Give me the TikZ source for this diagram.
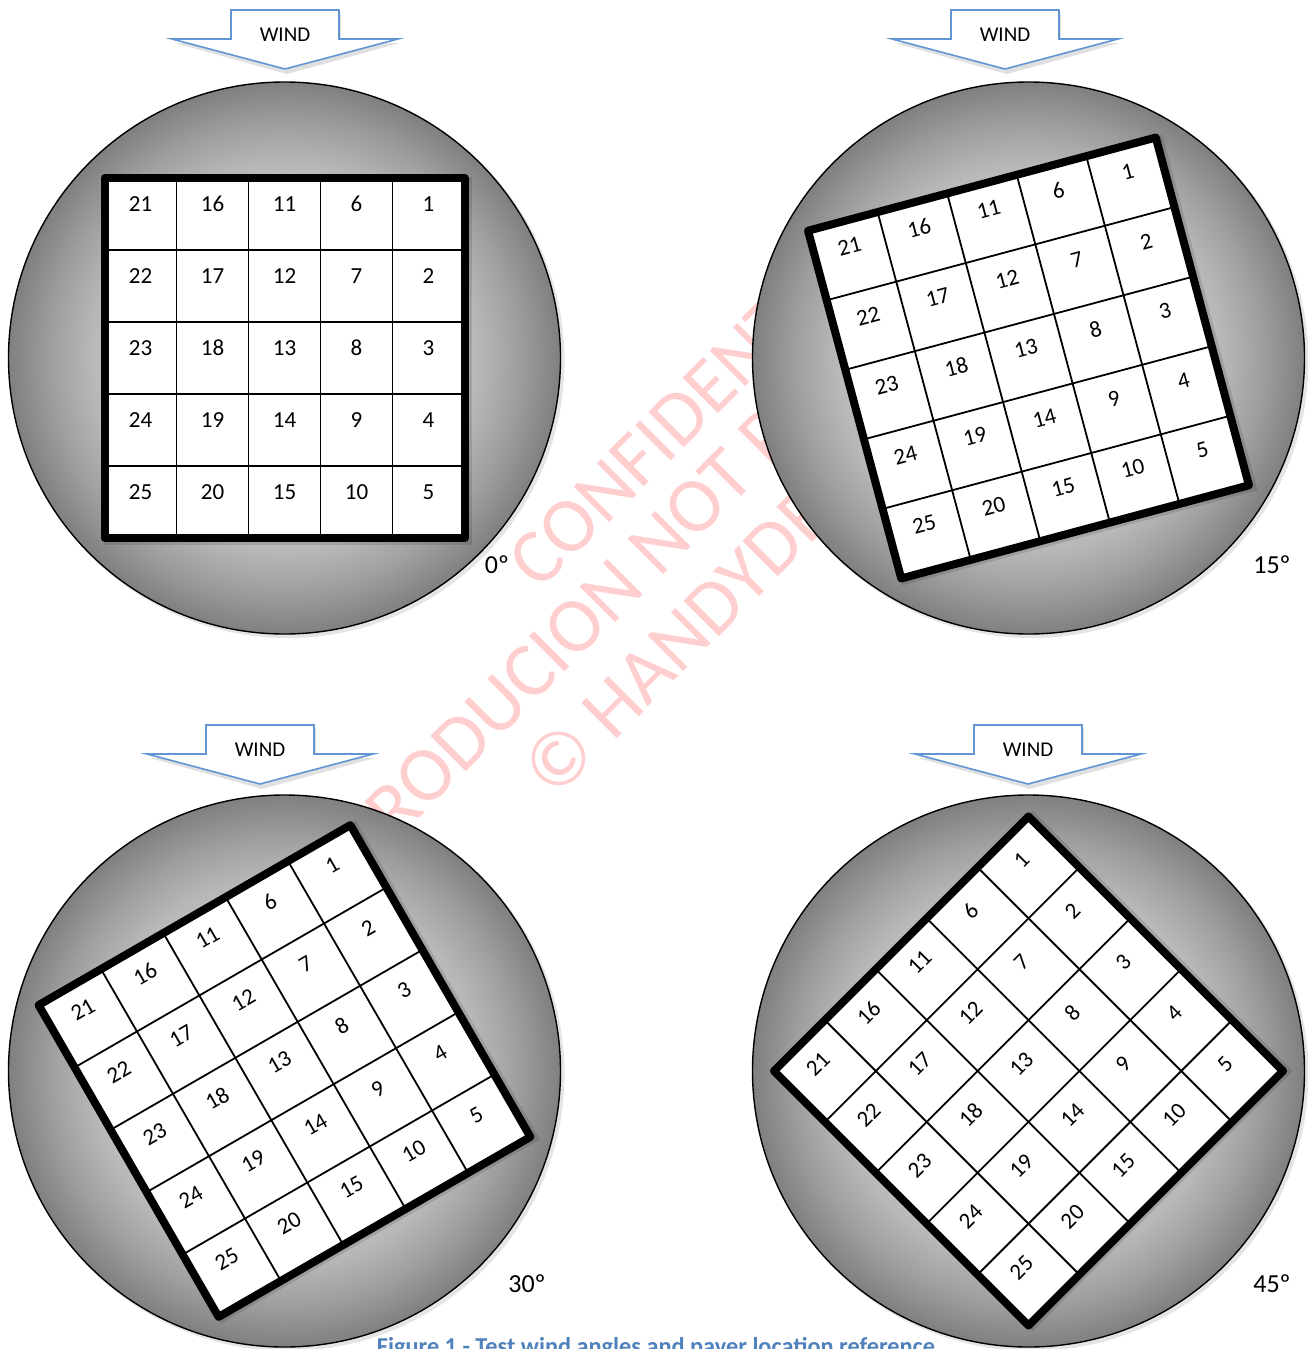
\documentclass[tikz,border=0pt]{standalone}
\usepackage{fontspec}
\setmainfont{Carlito}
\definecolor{windblue}{RGB}{98,150,210}
\definecolor{capblue}{RGB}{79,129,189}
\definecolor{wmark}{RGB}{255,206,206}
\pgfdeclareradialshading{discshade}{\pgfpoint{0bp}{0bp}}{%
 color(0bp)=(black!12); color(12.5bp)=(black!20); color(17.5bp)=(black!28); color(21.25bp)=(black!38); color(25bp)=(black!50); color(50bp)=(black!50)}
\tikzset{
 disc/.style={circle, minimum size=552pt, inner sep=0pt, draw=black, line width=1.4pt, shading=discshade},
 discshadow/.style={fill=black, opacity=0.10},
 windarrow/.style={draw=windblue, line width=1.6pt, fill=white, line join=miter},
 windshadow/.style={fill=black, opacity=0.12},
 windtext/.style={font=\fontsize{21}{25}\selectfont, inner sep=0pt},
 cellnum/.style={font=\fontsize{23}{27}\selectfont, inner sep=0pt},
 gridline/.style={line width=1.8pt},
 gridframe/.style={line width=8pt, line join=round},
 gridshadow/.style={fill=black, opacity=0.12},
 anglelabel/.style={font=\fontsize{26}{30}\selectfont, inner sep=0pt},
 wm/.style={text=wmark, font=\fontsize{78}{90}\selectfont, inner sep=0pt, rotate=45, anchor=west},
 caption/.style={text=capblue, font=\bfseries\fontsize{24.3}{28}\selectfont, inner sep=0pt, anchor=base},
}
\newcommand\WindArrow[3]{%
 \begin{scope}[shift={(#1,-#2)}]
 \fill[windshadow] (-52,-3) -- (56,-3) -- (56,-33) -- (115,-33) -- (2,-64) -- (-110,-33) -- (-52,-33) -- cycle;
 \draw[windarrow] (-54,0) -- (54,0) -- (54,-29) -- (113,-29) -- (0,-59) -- (-113,-29) -- (-54,-29) -- cycle;
 \node[windtext] (#3) at (0,-25) {WIND};
 \end{scope}}
\newcommand\PaverGrid[4]{%
 \begin{scope}[shift={(#1,-#2)}]
 \fill[gridshadow, rotate=#3] (-181,-187) rectangle (187,181);
 \end{scope}
 \begin{scope}[shift={(#1,-#2)}, rotate=#3]
 \fill[white] (-180,-180) rectangle (180,180);
 \foreach \k in {1,...,4}{
  \draw[gridline] (-180+72*\k,-180) -- (-180+72*\k,180);
  \draw[gridline] (-180,-180+72*\k) -- (180,-180+72*\k);}
 \draw[gridframe] (-180,-180) rectangle (180,180);
 \foreach \c in {0,...,4}{\foreach \r in {0,...,4}{
  \pgfmathtruncatemacro\n{(4-\c)*5+\r+1}
  \node[cellnum, rotate=#3] (#4-\n) at (-144+72*\c, 154-72*\r) {\n};}}
 \end{scope}}
\begin{document}
\begin{tikzpicture}[x=1pt,y=1pt]
\fill[white] (0,0) rectangle (1307,-1349);
\useasboundingbox (0,0) rectangle (1307,-1349);
% watermark (behind the discs)
\node[wm] (wm1) at (522,-574) {CONFIDENTIAL};
\node[wm] (wm2) at (293,-909) {REPRODUCION NOT PERMITTED};
\node[wm] (wm3) at (536,-782) {© HANDYDECK};
% disc shadows
\fill[discshadow] (287.5,-361) circle (277);
\fill[discshadow] (1031.5,-361) circle (277);
\fill[discshadow] (287.5,-1074) circle (277);
\fill[discshadow] (1031.5,-1074) circle (277);
% discs
\node[disc] (c1) at (284.5,-358) {};
\node[disc] (c2) at (1028.5,-358) {};
\node[disc] (c3) at (284.5,-1071) {};
\node[disc] (c4) at (1028.5,-1071) {};
% grids
\PaverGrid{284.5}{358}{0}{ga}
\PaverGrid{1028.5}{358}{15}{gb}
\PaverGrid{284.5}{1071}{30}{gc}
\PaverGrid{1028.5}{1071}{45}{gd}
% wind arrows
\WindArrow{285}{10}{w1}
\WindArrow{1005}{10}{w2}
\WindArrow{260}{725}{w3}
\WindArrow{1028}{725}{w4}
% angle labels
\node[anglelabel] (a1) at (497,-565) {0º};
\node[anglelabel] (a2) at (1272,-565) {15º};
\node[anglelabel] (a3) at (527,-1284) {30º};
\node[anglelabel] (a4) at (1272,-1284) {45º};
% caption
\node[caption] (cap) at (656,-1354) {Figure 1 - Test wind angles and paver location reference};
\end{tikzpicture}
\end{document}
